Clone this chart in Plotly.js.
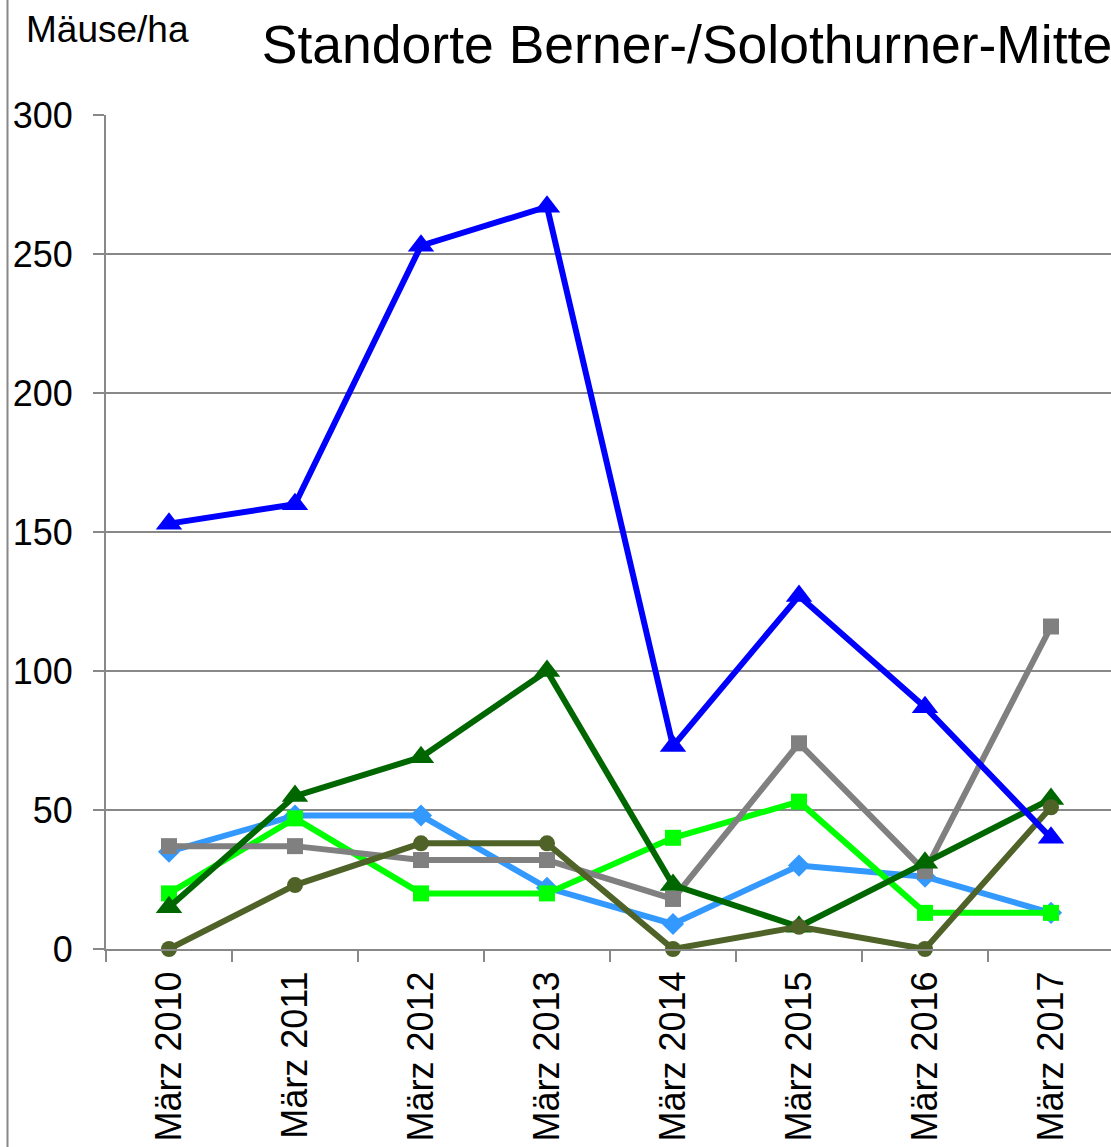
<!DOCTYPE html>
<html>
<head>
<meta charset="utf-8">
<script src="https://cdn.plot.ly/plotly-3.0.1.min.js"></script>
<style>
  html, body { margin: 0; padding: 0; background: #fff; overflow: hidden; }
  #chart { width: 1111px; height: 1147px; }
</style>
</head>
<body>
<div id="chart"></div>
<script>
const categories = ["März 2010", "März 2011", "März 2012", "März 2013", "März 2014", "März 2015", "März 2016", "März 2017"];

const seriesBlue      = [153, 160, 253, 267, 73, 127, 87, 40];
const seriesDarkGreen = [15, 55, 69, 100, 23, 8, 31, 54];
const seriesLightBlue = [35, 48, 48, 22, 9, 30, 26, 13];
const seriesLime      = [20, 47, 20, 20, 40, 53, 13, 13];
const seriesGray      = [37, 37, 32, 32, 18, 74, 28, 116];
const seriesOlive     = [0, 23, 38, 38, 0, 8, 0, 51];

const yTickValues = [0, 50, 100, 150, 200, 250, 300];

const titleText = "Standorte Berner-/Solothurner-Mitte";
const yUnitText = "Mäuse/ha";

function mk(y, color, symbol, size) {
  return {
    x: categories, y: y, type: "scatter", mode: "lines+markers",
    line: { color: color, width: 6 },
    marker: { color: color, symbol: symbol, size: size },
    cliponaxis: false, hoverinfo: "skip"
  };
}

const data = [
  mk(seriesLightBlue, "#3399FF", "diamond", 17),
  mk(seriesLime, "#00FF00", "square", 16),
  mk(seriesGray, "#808080", "square", 16),
  mk(seriesDarkGreen, "#006600", "triangle-up", 23),
  mk(seriesOlive, "#4F6228", "circle", 16),
  mk(seriesBlue, "#0000FF", "triangle-up", 23)
];

const plotLeft = 106, plotRight = 1111, plotTop = 115, plotBottom = 949;
const plotW = plotRight - plotLeft, plotH = plotBottom - plotTop;
const catPx = 126;
const xMax = -0.5 + plotW / catPx;

const layout = {
  width: 1111, height: 1147,
  margin: { l: plotLeft, r: 0, t: plotTop, b: 1147 - plotBottom },
  paper_bgcolor: "#ffffff", plot_bgcolor: "#ffffff",
  showlegend: false,
  font: { family: "Liberation Sans, Arial, sans-serif", color: "#000" },
  title: {
    text: titleText,
    font: { size: 53.5, color: "#000" },
    xref: "container", yref: "container",
    x: 687 / 1111, xanchor: "center",
    y: 1 - 44 / 1147, yanchor: "middle"
  },
  xaxis: {
    type: "category",
    range: [-0.5, xMax],
    tickson: "boundaries",
    ticks: "outside", ticklen: 11, tickwidth: 2, tickcolor: "#888888",
    showgrid: false, zeroline: false,
    showline: true, linecolor: "#888888", linewidth: 2,
    tickangle: -90,
    tickfont: { size: 36, color: "#000" },
    ticklabelstandoff: 6
  },
  yaxis: {
    range: [0, 300],
    tickvals: yTickValues,
    ticks: "outside", ticklen: 11, tickwidth: 2, tickcolor: "#888888",
    showgrid: true, gridcolor: "#888888", gridwidth: 2,
    zeroline: false,
    showline: true, linecolor: "#888888", linewidth: 2,
    tickfont: { size: 36, color: "#000" },
    ticklabelstandoff: 13
  },
  annotations: [{
    text: yUnitText, xref: "paper", yref: "paper",
    x: (24 - plotLeft) / plotW, xanchor: "left",
    y: (plotBottom - 30) / plotH, yanchor: "middle",
    showarrow: false, font: { size: 37, color: "#000" }
  }],
  shapes: [{
    type: "line", xref: "paper", yref: "paper",
    x0: (7.5 - plotLeft) / plotW, x1: (7.5 - plotLeft) / plotW,
    y0: -(1147 - plotBottom) / plotH, y1: 1 + plotTop / plotH,
    line: { color: "#888888", width: 2 }
  }]
};

Plotly.newPlot("chart", data, layout, { displayModeBar: false, staticPlot: true });
</script>
</body>
</html>
